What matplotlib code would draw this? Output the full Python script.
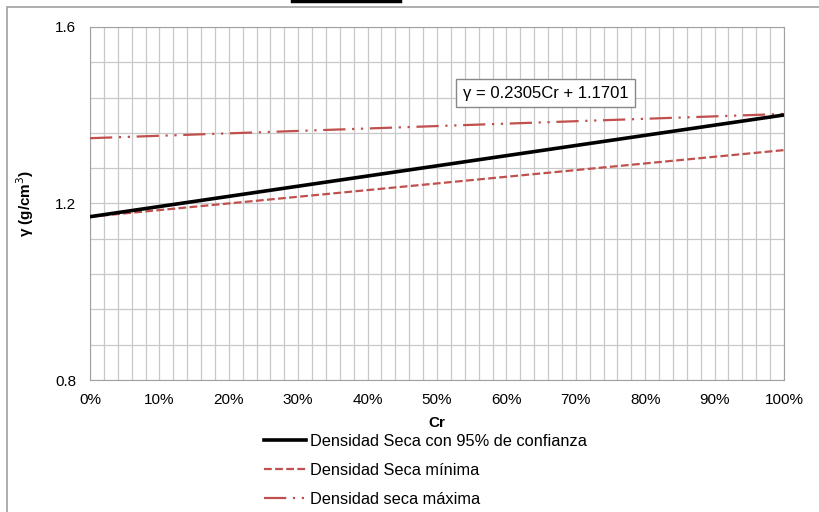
import numpy as np
import matplotlib.pyplot as plt
from matplotlib.ticker import MultipleLocator, PercentFormatter

plt.rcParams['font.family'] = ['Liberation Sans', 'DejaVu Sans']

# Datos
cr = [0.0, 1.0]
dens_conf = [1.1701, 1.4006]
dens_min = [1.170, 1.321]
dens_max = [1.348, 1.403]

fig = plt.figure(figsize=(8.2, 5.12), dpi=100)
ax = fig.add_axes([90/820, 132/512, 694/820, 353/512])

ax.plot(cr, dens_conf, color='black', lw=2.6, label='Densidad Seca con 95% de confianza', zorder=4)
ax.plot(cr, dens_min, color='#c0504d', lw=1.6, ls=(0, (3.5, 1.5)), label='Densidad Seca mínima', zorder=3)
ax.plot(cr, dens_max, color='#c0504d', lw=1.6, ls=(0, (10, 3, 1, 3, 1, 3)), label='Densidad seca máxima', zorder=3)

ax.set_xlim(0, 1)
ax.set_ylim(0.8, 1.6)
ax.xaxis.set_major_locator(MultipleLocator(0.1))
ax.xaxis.set_minor_locator(MultipleLocator(0.02))
ax.xaxis.set_major_formatter(PercentFormatter(1.0, decimals=0))
ax.yaxis.set_major_locator(MultipleLocator(0.4))
ax.yaxis.set_minor_locator(MultipleLocator(0.08))
ax.yaxis.set_major_formatter(lambda v, p: f'{v:.1f}')
ax.grid(which='both', color='#c8c8c8', lw=0.9)
ax.set_axisbelow(True)
ax.tick_params(which='both', length=0, labelsize=11)
ax.tick_params(axis='x', pad=9)
ax.tick_params(axis='y', pad=10)
for s in ax.spines.values():
    s.set_color('#a0a0a0')

ax.set_xlabel('Cr', fontsize=11, fontweight='bold', labelpad=7)
ax.set_ylabel('γ (g/cm$^3$)', fontsize=11, fontweight='bold', labelpad=14)

ax.text(0.537, 1.44, 'γ = 0.2305Cr + 1.1701', fontsize=12, zorder=5,
        bbox=dict(boxstyle='square,pad=0.4', fc='white', ec='#888888', lw=1))

fig.legend(loc='upper left', bbox_to_anchor=(249/820, 1 - 419/512), frameon=False,
           fontsize=11.8, handlelength=2.6, labelspacing=0.85, handletextpad=0.2)

# marco exterior y trazo superior
fig.patches.append(plt.Rectangle((7/820, -0.1), 1.2, (505/512) + 0.1, transform=fig.transFigure,
                                 fill=False, ec='#a0a0a0', lw=1.2))
fig.add_artist(plt.Line2D([292/820, 400/820], [1 - 1/512, 1 - 1/512], color='black', lw=2.5))

fig.savefig('out.png', dpi=100)
